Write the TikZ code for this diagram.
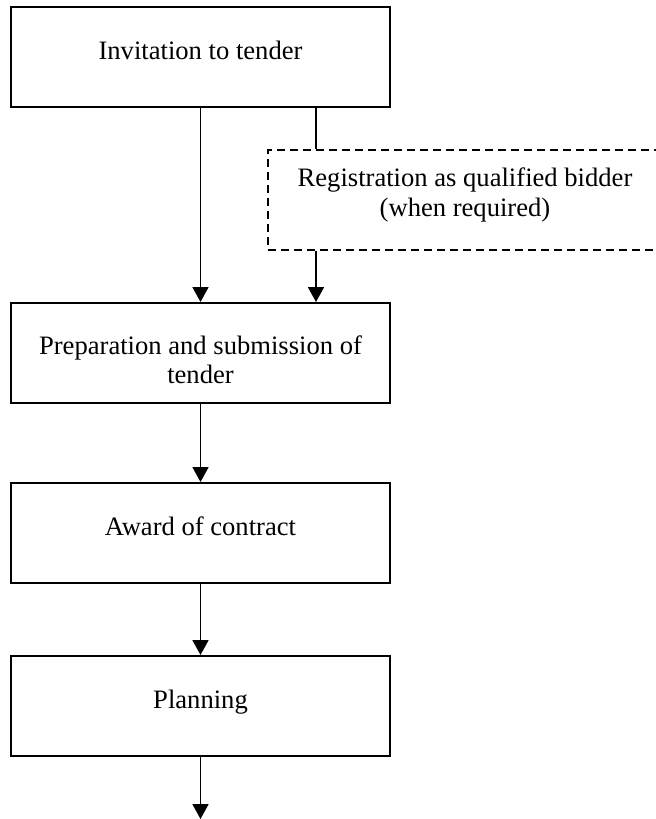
\documentclass[tikz,border=0pt]{standalone}
\usepackage{fontspec}
\setmainfont{Liberation Serif}
\usetikzlibrary{arrows.meta}
\tikzset{
  stepbox/.style={draw, line width=1pt, minimum width=189.5pt, minimum height=50pt, inner sep=0pt},
  optbox/.style={draw, line width=0.9pt, dash pattern=on 4pt off 2.5pt, minimum width=197pt, minimum height=50pt, inner sep=0pt},
  txt/.style={anchor=base, inner sep=0pt, font=\fontsize{13.3}{15}\selectfont},
  arr/.style={line width=0.9pt, -{Triangle[width=8pt,length=7.5pt]}},
  conn/.style={line width=0.9pt}
}
\begin{document}
\begin{tikzpicture}[x=0.5pt, y=-0.5pt]
\useasboundingbox (0,0) rectangle (656,819);
% boxes
\node[stepbox] (b1) at (200.5,57) {};
\node[optbox]  (reg) at (465,200) {};
\node[stepbox] (b2) at (200.5,353) {};
\node[stepbox] (b3) at (200.5,533) {};
\node[stepbox] (b4) at (200.5,706) {};
% texts
\node[txt] (t1) at (200.5,59) {Invitation to tender};
\node[txt] (tr1) at (465,186) {Registration as qualified bidder};
\node[txt] (tr2) at (465,216.5) {(when required)};
\node[txt] (t2a) at (200.5,354) {Preparation and submission of};
\node[txt] (t2b) at (200.5,383) {tender};
\node[txt] (t3) at (200.5,535) {Award of contract};
\node[txt] (t4) at (200.5,708) {Planning};
% connectors
\coordinate (side) at (316,0);
\coordinate (out) at (200.5,819);
\draw[arr] (b1.south) -- (b2.north);
\draw[conn] (b1.south -| side) -- (reg.north -| side);
\draw[arr] (reg.south -| side) -- (b2.north -| side);
\draw[arr] (b2.south) -- (b3.north);
\draw[arr] (b3.south) -- (b4.north);
\draw[arr] (b4.south) -- (out);
\end{tikzpicture}
\end{document}
